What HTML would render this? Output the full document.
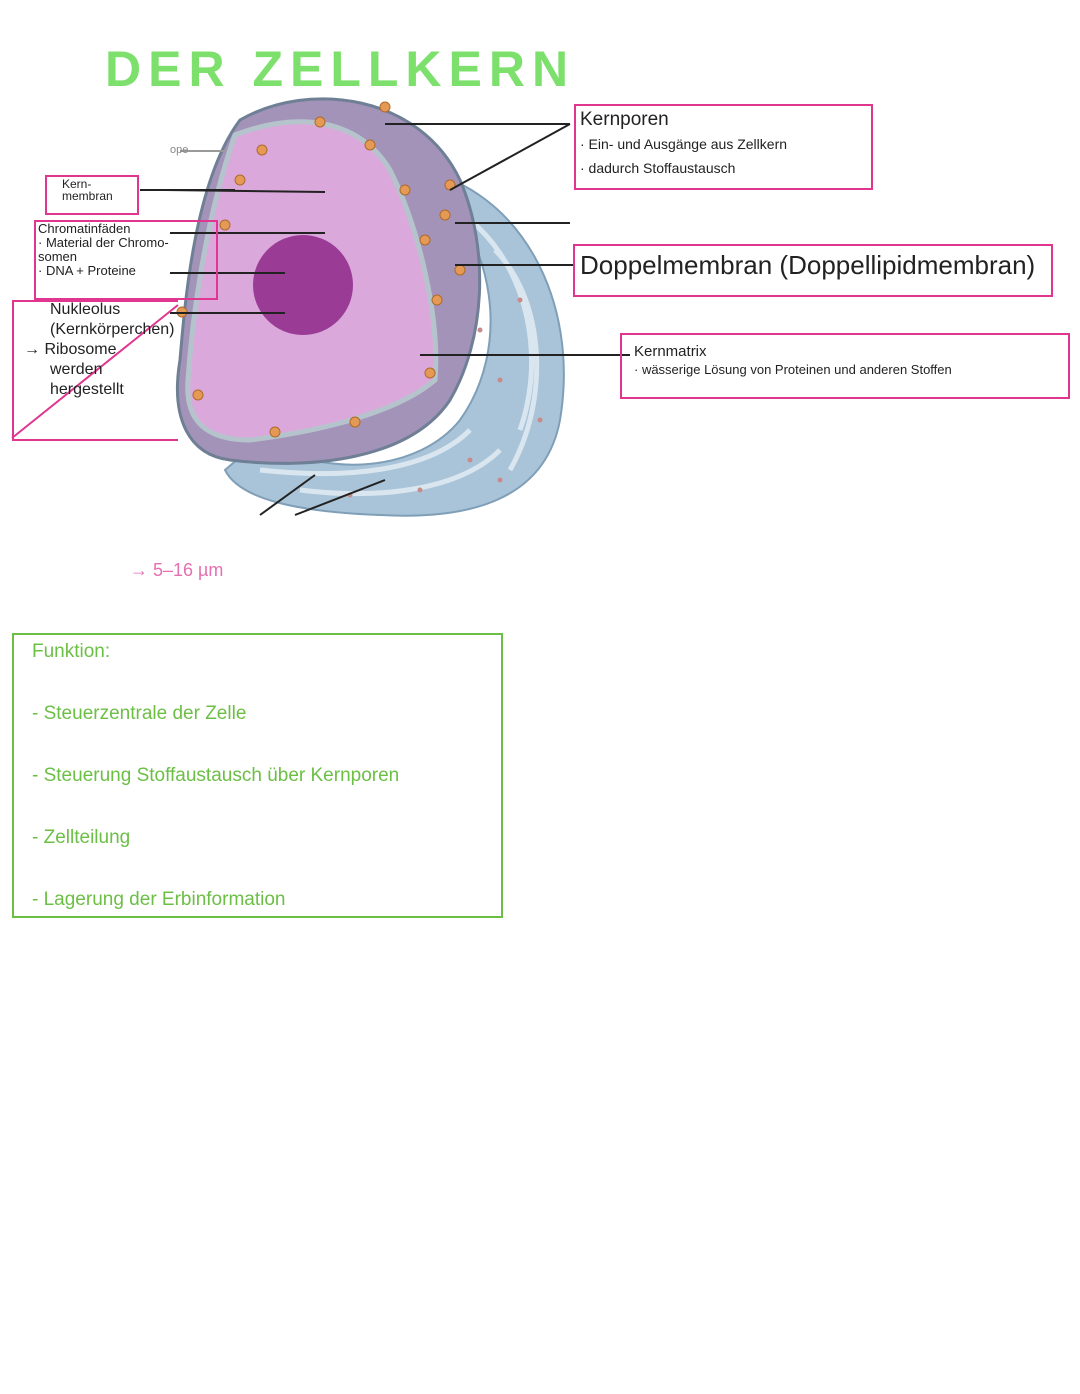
<!DOCTYPE html>
<html><head><meta charset="utf-8"><style>
body{margin:0;background:#fff;}
#p{position:relative;width:1080px;height:1394px;overflow:hidden;font-family:"Liberation Sans",sans-serif;}
.t{position:absolute;white-space:nowrap;color:#222;}
.b{position:absolute;border:2px solid #e0368f;}
.g{position:absolute;border:2px solid #6cbf45;}
</style></head><body><div id="p">
<svg width="1080" height="1394" style="position:absolute;left:0;top:0">
<path d="M420,170 C520,190 580,300 560,420 C545,500 470,520 380,515 C300,512 240,500 225,470 L260,440 C330,480 420,470 460,420 C510,350 500,240 420,170Z" fill="#a9c4d8" stroke="#7f9fb8" stroke-width="2"/>
<path d="M470,220 C530,270 545,360 520,430 M495,250 C545,300 550,400 510,470 M300,490 C380,500 460,490 500,450 M260,470 C350,480 430,470 470,430" fill="none" stroke="#d9e6ef" stroke-width="5"/>
<g fill="#c98a8a"><circle cx="480" cy="330" r="2.5"/><circle cx="500" cy="380" r="2.5"/><circle cx="520" cy="300" r="2.5"/><circle cx="470" cy="460" r="2.5"/><circle cx="420" cy="490" r="2.5"/><circle cx="350" cy="495" r="2.5"/><circle cx="540" cy="420" r="2.5"/><circle cx="500" cy="480" r="2.5"/></g>
<path d="M240,120 C310,80 420,95 460,180 C490,250 485,340 450,400 C410,460 310,470 230,460 C190,455 170,420 180,360 C185,300 195,180 240,120Z" fill="#a393b8" stroke="#6f7f95" stroke-width="3"/>
<path d="M235,135 C300,110 360,120 390,170 C420,230 440,320 435,380 C400,410 330,430 250,440 C205,440 185,420 188,380 C192,320 205,220 235,135Z" fill="#dba8dc" stroke="#b5c4cc" stroke-width="5"/>
<circle cx="303" cy="285" r="50" fill="#9a3c96"/>
<g fill="#e49a55" stroke="#b06a2a">
<circle cx="262" cy="150" r="5"/><circle cx="320" cy="122" r="5"/><circle cx="370" cy="145" r="5"/><circle cx="405" cy="190" r="5"/><circle cx="425" cy="240" r="5"/><circle cx="437" cy="300" r="5"/><circle cx="430" cy="373" r="5"/><circle cx="355" cy="422" r="5"/><circle cx="275" cy="432" r="5"/><circle cx="198" cy="395" r="5"/><circle cx="225" cy="225" r="5"/><circle cx="240" cy="180" r="5"/><circle cx="182" cy="312" r="5"/><circle cx="385" cy="107" r="5"/><circle cx="450" cy="185" r="5"/><circle cx="460" cy="270" r="5"/><circle cx="445" cy="215" r="5"/>
</g>
<g stroke="#222" stroke-width="2">
<line x1="140" y1="190" x2="235" y2="190"/><line x1="165" y1="190" x2="325" y2="192"/>
<line x1="170" y1="233" x2="325" y2="233"/><line x1="170" y1="273" x2="285" y2="273"/>
<line x1="170" y1="313" x2="285" y2="313"/>
<line x1="385" y1="124" x2="570" y2="124"/><line x1="450" y1="190" x2="570" y2="124"/>
<line x1="455" y1="223" x2="570" y2="223"/><line x1="455" y1="265" x2="575" y2="265"/>
<line x1="420" y1="355" x2="630" y2="355"/>
<line x1="260" y1="515" x2="315" y2="475"/><line x1="295" y1="515" x2="385" y2="480"/>
<line x1="180" y1="151" x2="225" y2="151" stroke="#999"/>
</g>
<line x1="12" y1="438" x2="178" y2="305" stroke="#e0368f" stroke-width="2"/>
</svg>
<div class="t" style="left:105px;top:40px;font-size:50px;font-weight:bold;color:#7de06d;letter-spacing:7px">DER ZELLKERN</div>
<div class="t" style="left:170px;top:144px;font-size:11px;color:#888">ope</div>
<div class="b" style="left:45px;top:175px;width:90px;height:36px"></div>
<div class="t" style="left:62px;top:178px;font-size:12px;line-height:12px">Kern-<br>membran</div>
<div class="b" style="left:34px;top:220px;width:180px;height:76px"></div>
<div class="t" style="left:38px;top:222px;font-size:13px;line-height:14px">Chromatinfäden<br>· Material der Chromo-<br>somen<br>· DNA + Proteine</div>
<div class="b" style="left:12px;top:300px;width:164px;height:137px;border-right:none"></div>
<div class="t" style="left:50px;top:300px;font-size:16px;line-height:20px">Nukleolus<br>(Kernkörperchen)<br><span style="margin-left:-26px">→ Ribosome</span><br>werden<br>hergestellt</div>
<div class="b" style="left:574px;top:104px;width:295px;height:82px"></div>
<div class="t" style="left:580px;top:108px;font-size:19px;line-height:24px">Kernporen<br><span style="font-size:14px">· Ein- und Ausgänge aus Zellkern<br>· dadurch Stoffaustausch</span></div>
<div class="b" style="left:573px;top:244px;width:476px;height:49px"></div>
<div class="t" style="left:580px;top:250px;font-size:26px">Doppelmembran (Doppellipidmembran)</div>
<div class="b" style="left:620px;top:333px;width:446px;height:62px"></div>
<div class="t" style="left:634px;top:343px;font-size:15px;line-height:18px">Kernmatrix<br><span style="font-size:13px">· wässerige Lösung von Proteinen und anderen Stoffen</span></div>
<div class="t" style="left:130px;top:560px;font-size:18px;color:#e56fb0">→ 5–16 µm</div>
<div class="g" style="left:12px;top:633px;width:487px;height:281px"></div>
<div class="t" style="left:32px;top:621px;font-size:19px;color:#6cbf45;line-height:62px">Funktion:<br>- Steuerzentrale der Zelle<br>- Steuerung Stoffaustausch über Kernporen<br>- Zellteilung<br>- Lagerung der Erbinformation</div>
</div></body></html>
